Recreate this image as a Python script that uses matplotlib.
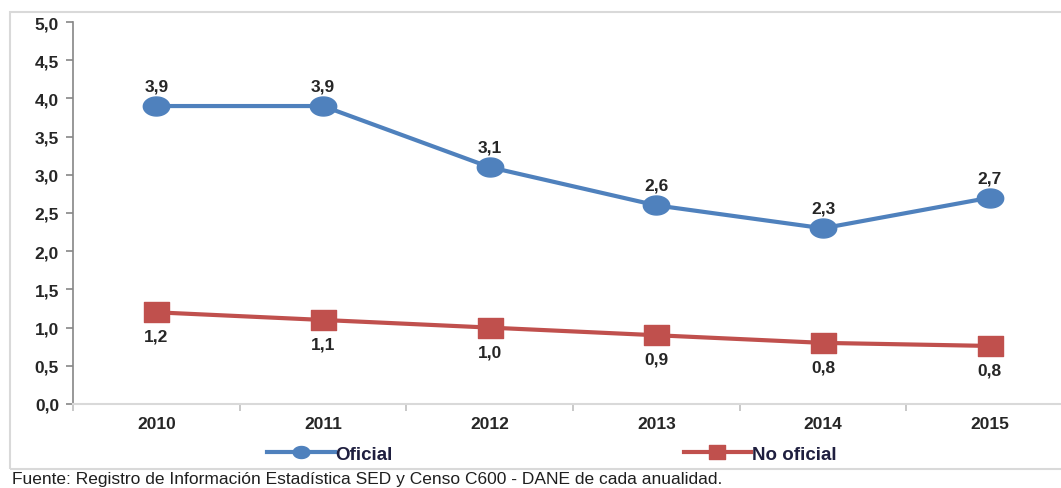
import matplotlib
matplotlib.use("Agg")
import numpy as np
import matplotlib.pyplot as plt
from matplotlib.patches import Rectangle
from matplotlib.lines import Line2D
from matplotlib.path import Path

years = ["2010", "2011", "2012", "2013", "2014", "2015"]
oficial = [3.9, 3.9, 3.1, 2.6, 2.3, 2.7]
no_oficial = [1.2, 1.1, 1.0, 0.9, 0.8, 0.76]
oficial_labels = ["3,9", "3,9", "3,1", "2,6", "2,3", "2,7"]
no_oficial_labels = ["1,2", "1,1", "1,0", "0,9", "0,8", "0,8"]
yticks = [0.0, 0.5, 1.0, 1.5, 2.0, 2.5, 3.0, 3.5, 4.0, 4.5, 5.0]
source = "Fuente: Registro de Información Estadística SED y Censo C600 - DANE de cada anualidad."

plt.rcParams['font.family'] = ['Liberation Sans', 'DejaVu Sans']

W, H = 1061, 489
fig = plt.figure(figsize=(W / 100, H / 100), dpi=100)

# outer frame (right side runs off the image)
fig.patches.append(Rectangle((10 / W, 1 - 470 / H), 1100 / W, 457 / H,
                             transform=fig.transFigure, fill=False,
                             edgecolor="#d9d9d9", linewidth=1.5))

# wide elliptical / rectangular markers (the reference is horizontally stretched)
th = np.linspace(0, 2 * np.pi, 60)
ellipse = Path(np.column_stack([np.cos(th), 0.72 * np.sin(th)]), closed=True)
rect = Path([(-1, -0.82), (1, -0.82), (1, 0.82), (-1, 0.82), (-1, -0.82)], closed=True)

ax_left, ax_right = 73, 1073
ax_top, ax_bottom = 23, 405
ax = fig.add_axes([ax_left / W, 1 - ax_bottom / H, (ax_right - ax_left) / W, (ax_bottom - ax_top) / H])

blue = "#4F81BD"
red = "#C0504D"
txt = "#262626"
x = list(range(len(years)))
ax.plot(x, oficial, color=blue, linewidth=3, marker=ellipse, markersize=19, zorder=3)
ax.plot(x, no_oficial, color=red, linewidth=3, marker=rect, markersize=18, zorder=3)

for xi, v, lab in zip(x, oficial, oficial_labels):
    ax.annotate(lab, (xi, v), xytext=(0, 9), textcoords="offset points",
                ha="center", va="bottom", fontsize=12.5, fontweight="bold", color=txt)
for xi, v, lab in zip(x, no_oficial, no_oficial_labels):
    ax.annotate(lab, (xi, v), xytext=(0, -12), textcoords="offset points",
                ha="center", va="top", fontsize=12.5, fontweight="bold", color=txt)

ax.set_xlim(-0.5, 5.5)
ax.set_ylim(0, 5.0)
ax.set_yticks(yticks)
ax.set_yticklabels([f"{t:.1f}".replace(".", ",") for t in yticks],
                   fontsize=12.5, fontweight="bold", color=txt)
ax.set_xticks(x)
ax.set_xticklabels(years, fontsize=12.5, fontweight="bold", color=txt)
ax.set_xticks([i - 0.5 for i in range(len(years) + 1)], minor=True)
ax.tick_params(axis="x", which="major", length=0, pad=9)
ax.tick_params(axis="x", which="minor", length=5, color="#bfbfbf", width=1.2)
ax.tick_params(axis="y", length=5, color="#868686", width=1.2, pad=5)

for s in ["top", "right"]:
    ax.spines[s].set_visible(False)
ax.spines["left"].set_color("#868686")
ax.spines["left"].set_linewidth(1.2)
ax.spines["bottom"].set_color("#d9d9d9")
ax.spines["bottom"].set_linewidth(1.5)

handles = [Line2D([], [], color=blue, linewidth=3, marker=ellipse, markersize=12),
           Line2D([], [], color=red, linewidth=3, marker=rect, markersize=12)]
leg = fig.legend(handles, ["Oficial", "No oficial"], loc="center",
                 bbox_to_anchor=(552 / W, 1 - 455 / H), ncol=2, frameon=False,
                 handlelength=3.6, handletextpad=0.05, columnspacing=15.5,
                 prop={"size": 13.5, "weight": "bold"})
for t in leg.get_texts():
    t.set_color("#1f1f3f")

fig.text(12 / W, 1 - 480 / H, source, fontsize=12.5, color="#1f1f1f", va="center", ha="left")

fig.savefig("out.png", dpi=100)
